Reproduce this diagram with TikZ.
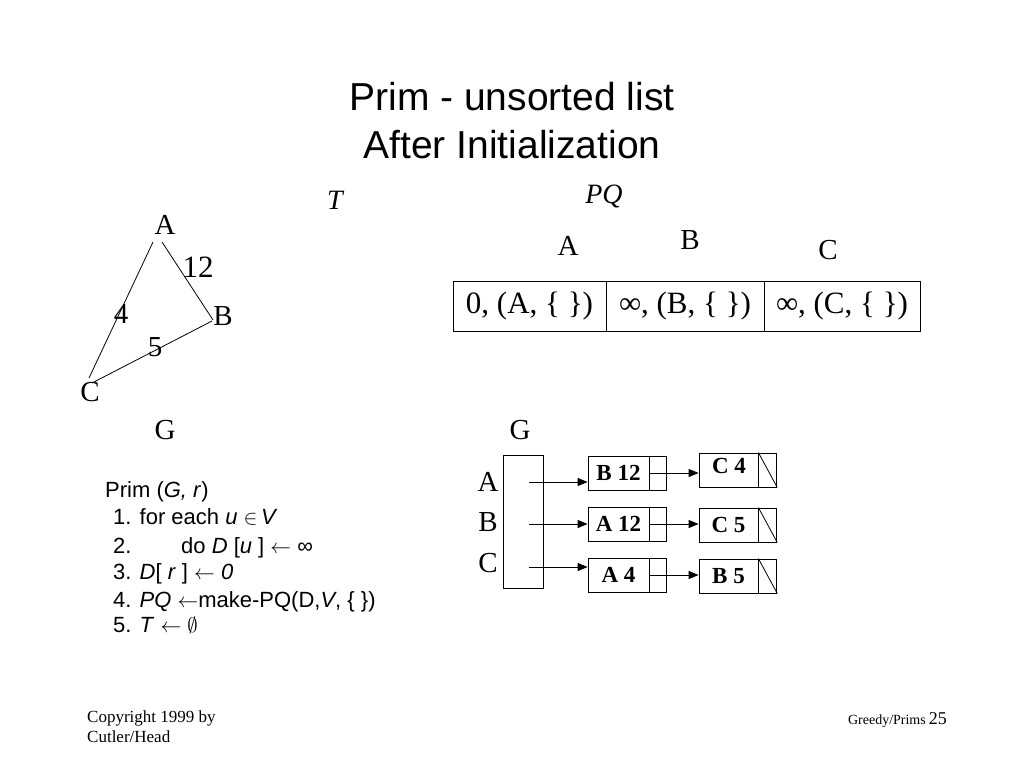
\documentclass[tikz,border=0pt]{standalone}
\usepackage{fontspec}
\setmainfont{Liberation Serif}
\newfontfamily\arialf{Liberation Sans}
\usetikzlibrary{arrows.meta}
\begin{document}
\begin{tikzpicture}[x=1pt,y=-1pt,
  big/.style={font=\fontsize{29}{29}\selectfont, inner sep=0pt},
  cell/.style={draw, line width=0.8pt, minimum height=50pt, inner sep=0pt, font=\fontsize{31}{31}\selectfont},
  code/.style={anchor=base west, inner sep=0pt, font=\arialf\fontsize{22}{22}\selectfont},
  ldata/.style={draw, line width=0.8pt, minimum width=61pt, minimum height=34pt, inner sep=0pt, font=\bfseries\fontsize{23}{23}\selectfont},
  lptr/.style={draw, line width=0.8pt, minimum width=17pt, minimum height=34pt, inner sep=0pt},
  edge/.style={line width=0.8pt},
  arr/.style={line width=1pt, -{Triangle[length=10pt,width=8pt]}}
]
\useasboundingbox (0,0) rectangle (1024,768);

% title
\node[align=center, font=\arialf\fontsize{39}{48}\selectfont] (title) at (512,121) {Prim - unsorted list\\After Initialization};

% graph T
\node[big, font=\itshape\fontsize{28}{28}\selectfont] (T) at (335,200) {T};
\node[big] (A) at (165,225) {A};
\node[big] (B) at (223,316) {B};
\node[big] (C) at (90,392) {C};
\coordinate (Aa) at (153,242);
\coordinate (Ab) at (162,242);
\coordinate (Ba) at (213,320);
\coordinate (Bb) at (212,321);
\coordinate (Ca) at (89,378);
\coordinate (Cb) at (92,383);
\draw[edge] (Aa) -- (Ca);
\draw[edge] (Ab) -- (Ba);
\draw[edge] (Bb) -- (Cb);
\node[big, font=\fontsize{31}{31}\selectfont] (w12) at (198,267) {12};
\node[big] (w4) at (121,314) {4};
\node[big] (w5) at (155,347) {5};
\node[big] (G1) at (165,430) {G};

% PQ
\node[big, font=\itshape\fontsize{28}{28}\selectfont] (PQ) at (604,196) {PQ};
\node[big] (pqA) at (568,246) {A};
\node[big] (pqB) at (690,240) {B};
\node[big] (pqC) at (828,250) {C};
\node[cell, minimum width=153pt] (c1) at (529.5,306) {0, (A, \{ \})};
\node[cell, minimum width=158pt] (c2) at (685,306) {∞, (B, \{ \})};
\node[cell, minimum width=156pt] (c3) at (842,306) {∞, (C, \{ \})};

% adjacency lists
\node[big] (G2) at (520,430) {G};
\node[big] (adjA) at (488,482) {A};
\node[big] (adjB) at (488,522) {B};
\node[big] (adjC) at (488,563) {C};
\node[draw, line width=0.8pt, minimum width=40pt, minimum height=133pt, inner sep=0pt] (adj) at (523,521.5) {};
\coordinate (pA) at (529,482);
\coordinate (pB) at (529,524);
\coordinate (pC) at (529,567);

\node[ldata] (d1) at (618.5,473) {B 12};
\node[lptr, anchor=west] (q1) at (d1.east) {};
\node[ldata] (d2) at (618.5,524) {A 12};
\node[lptr, anchor=west] (q2) at (d2.east) {};
\node[ldata] (d3) at (618.5,575) {A 4};
\node[lptr, anchor=west] (q3) at (d3.east) {};

\node[ldata, minimum width=59pt] (e1) at (728.5,470) {};
\node[lptr, minimum width=18pt, anchor=west] (f1) at (e1.east) {};
\node[font=\bfseries\fontsize{23}{23}\selectfont, inner sep=0pt] (e1t) at (729,466) {C 4};
\node[ldata, minimum width=59pt] (e2) at (728.5,525) {C 5};
\node[lptr, minimum width=18pt, anchor=west] (f2) at (e2.east) {};
\node[ldata, minimum width=59pt] (e3) at (728.5,576) {B 5};
\node[lptr, minimum width=18pt, anchor=west] (f3) at (e3.east) {};
\draw[line width=0.8pt] (f1.north west) -- (f1.south east);
\draw[line width=0.8pt] (f2.north west) -- (f2.south east);
\draw[line width=0.8pt] (f3.north west) -- (f3.south east);

\draw[arr] (pA) -- (pA -| d1.west);
\draw[arr] (pB) -- (pB -| d2.west);
\draw[arr] (pC) -- (pC -| d3.west);
\draw[arr] (d1.east) -- (d1.east -| e1.west);
\draw[arr] (d2.east) -- (d2.east -| e2.west);
\draw[arr] (d3.east) -- (d3.east -| e3.west);

% pseudocode
\node[code] (l0) at (105,497) {Prim (\textit{G, r})};
\node[code] (l1) at (113,524) {1. for each \textit{u} $\in$\,\textit{V}};
\node[code] (l2) at (113,553) {2.};
\node[code] (l2b) at (181,553) {do \textit{D} [\textit{u} ] $\leftarrow$ ∞};
\node[code] (l3) at (113,579) {3. \textit{D}[ \textit{r} ] $\leftarrow$ \textit{0}};
\node[code] (l4) at (113,607) {4. \textit{PQ} $\leftarrow$make-PQ(D,\textit{V}, \{ \})};
\node[code] (l5) at (113,632) {5. \textit{T} $\leftarrow$ $\emptyset$};

% footer
\node[anchor=base west, inner sep=0pt, font=\fontsize{17}{17}\selectfont] (f1t) at (87,722) {Copyright 1999 by};
\node[anchor=base west, inner sep=0pt, font=\fontsize{17}{17}\selectfont] (f2t) at (87,742) {Cutler/Head};
\node[anchor=base east, inner sep=0pt, font=\fontsize{18}{18}\selectfont] (pg) at (947,724) {25};
\node[anchor=base east, inner sep=0pt, font=\fontsize{14}{14}\selectfont] (gp) at (926,724) {Greedy/Prims};
\end{tikzpicture}
\end{document}
